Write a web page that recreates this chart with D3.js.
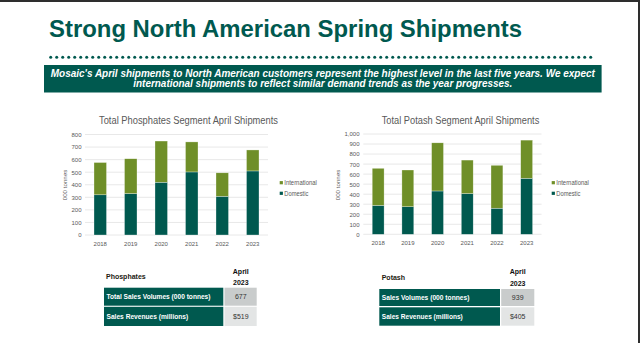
<!DOCTYPE html>
<html><head><meta charset="utf-8">
<script src="https://cdn.jsdelivr.net/npm/d3@7/dist/d3.min.js"></script>
<style>
html,body{margin:0;padding:0;background:#fff;}
svg{display:block;font-family:"Liberation Sans",Arial,sans-serif;}
</style></head>
<body>
<svg id="c" width="640" height="343"></svg>
<script>
const years = ["2018","2019","2020","2021","2022","2023"];
const seriesNames = ["Domestic","International"];
const phosDomestic = [320, 330, 420, 502, 308, 510];
const phosInternational = [257, 277, 328, 239, 187, 167];
const potashDomestic = [288, 275, 432, 406, 260, 558];
const potashInternational = [370, 366, 480, 334, 428, 381];
const phosTicks = [0,100,200,300,400,500,600,700,800];
const potashTicks = [0,100,200,300,400,500,600,700,800,900,1000];
const phosTable = [["Total Sales Volumes (000 tonnes)","677"],["Sales Revenues (millions)","$519"]];
const potashTable = [["Sales Volumes (000 tonnes)","939"],["Sales Revenues (millions)","$405"]];

const TEAL = "#00594f", GREEN = "#6f8f28", GRAY = "#595959";
const svg = d3.select("#c");

// frame edges
svg.append("rect").attr("x",0).attr("y",0).attr("width",640).attr("height",2).attr("fill","#2e2e2e");
svg.append("rect").attr("x",638).attr("y",0).attr("width",2).attr("height",343).attr("fill","#2e2e2e");

// title
svg.append("text").attr("x",49).attr("y",37.3).attr("fill",TEAL)
  .attr("font-size",24).attr("font-weight","bold")
  .attr("textLength",473).attr("lengthAdjust","spacingAndGlyphs")
  .text("Strong North American Spring Shipments");

// dotted line
const dots = d3.range(50.7, 596, 6);
svg.append("g").selectAll("circle").data(dots).join("circle")
  .attr("cx",d=>d).attr("cy",57.3).attr("r",1.5).attr("fill",TEAL);

// banner
svg.append("rect").attr("x",44).attr("y",65).attr("width",557.6).attr("height",27.5).attr("fill",TEAL);
const banner = [
  ["Mosaic's April shipments to North American customers represent the highest level in the last five years. We expect", 76.7, 544],
  ["international shipments to reflect similar demand trends as the year progresses.", 86.9, 379]
];
svg.append("g").selectAll("text").data(banner).join("text")
  .attr("x",322.8).attr("y",d=>d[1]).attr("text-anchor","middle")
  .attr("fill","#fff").attr("font-size",10).attr("font-weight","bold").attr("font-style","italic")
  .attr("textLength",d=>d[2]).attr("lengthAdjust","spacingAndGlyphs")
  .text(d=>d[0]);

function chart(o){
  const g = svg.append("g");
  const x = d3.scaleBand().domain(years).range([o.x0,o.x1]).paddingInner(o.pad).paddingOuter(o.pad/2);
  const y = d3.scaleLinear().domain([0,o.max]).range([o.y0,o.y1]);
  // title
  g.append("text").attr("x",o.tx).attr("y",o.ty).attr("text-anchor","middle")
    .attr("fill",GRAY).attr("font-size",10).attr("textLength",o.tw).attr("lengthAdjust","spacingAndGlyphs").text(o.title);
  // grid
  g.append("g").selectAll("line").data(o.ticks).join("line")
    .attr("x1",o.x0).attr("x2",o.x1).attr("y1",d=>y(d)).attr("y2",d=>y(d))
    .attr("stroke","#e2e2e2").attr("stroke-width",0.8);
  // y axis labels
  const ya = d3.axisLeft(y).tickValues(o.ticks).tickSize(0).tickPadding(0).tickFormat(d3.format(","));
  const yg = g.append("g").attr("transform",`translate(${o.lx},0)`).call(ya);
  yg.select(".domain").remove();
  yg.selectAll("text").attr("fill",GRAY).attr("font-size",6).attr("font-family","Liberation Sans,Arial,sans-serif");
  // x axis labels
  const xa = d3.axisBottom(x).tickSize(0).tickPadding(0);
  const xg = g.append("g").attr("transform",`translate(0,${o.xly})`).call(xa);
  xg.select(".domain").remove();
  xg.selectAll("text").attr("fill",GRAY).attr("font-size",6).attr("font-family","Liberation Sans,Arial,sans-serif");
  // stacked bars
  const rows = years.map((yr,i)=>({year:yr, Domestic:o.dom[i], International:o.intl[i]}));
  const stack = d3.stack().keys(seriesNames)(rows);
  const color = d3.scaleOrdinal().domain(seriesNames).range([TEAL,GREEN]);
  g.append("g").selectAll("g").data(stack).join("g").attr("fill",d=>color(d.key))
    .selectAll("rect").data(d=>d).join("rect")
    .attr("x",d=>x(d.data.year)).attr("width",x.bandwidth())
    .attr("y",d=>y(d[1])).attr("height",d=>y(d[0])-y(d[1]))
    .attr("stroke","#ffffff").attr("stroke-width",0.5).attr("stroke-opacity",0.6);
  // y title
  g.append("text").attr("transform",`translate(${o.ytx},${o.yty}) rotate(-90)`)
    .attr("text-anchor","middle").attr("fill",GRAY).attr("font-size",6.2).text("000 tonnes");
  // legend
  const leg = [["International",GREEN,o.legY,32.5],["Domestic",TEAL,o.legY+10.6,24]];
  const lg = g.append("g").selectAll("g").data(leg).join("g");
  lg.append("rect").attr("x",o.legX).attr("y",d=>d[2]-1.6).attr("width",3.2).attr("height",3.2).attr("fill",d=>d[1]);
  lg.append("text").attr("x",o.legX+4.6).attr("y",d=>d[2]+2.2).attr("fill",GRAY).attr("font-size",6.8)
    .attr("textLength",d=>d[3]).attr("lengthAdjust","spacingAndGlyphs").text(d=>d[0]);
}

chart({x0:85,x1:268,pad:0.59,y0:235,y1:134.5,max:800,ticks:phosTicks,dom:phosDomestic,intl:phosInternational,
  title:"Total Phosphates Segment April Shipments",tw:179,tx:188.5,ty:124.3,lx:81.5,xly:241.5,ytx:66.5,yty:185,legX:279.7,legY:182.7});
chart({x0:363.3,x1:541.5,pad:0.6,y0:234.3,y1:134,max:1000,ticks:potashTicks,dom:potashDomestic,intl:potashInternational,
  title:"Total Potash Segment April Shipments",tw:157.6,tx:460.5,ty:123.8,lx:359.5,xly:241,ytx:339.5,yty:185,legX:551.7,legY:182.7});

function table(o){
  const g = svg.append("g");
  g.append("text").attr("x",o.hx).attr("y",o.hy).attr("font-size",7).attr("font-weight","bold").attr("fill","#231a10").text(o.head);
  g.append("text").attr("x",o.vc).attr("y",o.ay1).attr("text-anchor","middle").attr("font-size",7).attr("font-weight","bold").attr("fill","#111").text("April");
  g.append("text").attr("x",o.vc).attr("y",o.ay2).attr("text-anchor","middle").attr("font-size",7).attr("font-weight","bold").attr("fill","#111").text("2023");
  const rg = g.append("g").selectAll("g").data(o.rows).join("g");
  rg.append("rect").attr("x",o.x0).attr("y",(d,i)=>o.ry[i]).attr("width",o.x1-o.x0).attr("height",(d,i)=>o.rh[i]).attr("fill",TEAL);
  rg.append("rect").attr("x",o.x1+1.2).attr("y",(d,i)=>o.ry[i]).attr("width",o.x2-o.x1-1.2).attr("height",(d,i)=>o.rh[i])
    .attr("fill",(d,i)=>i===0?"#c9cccc":"#e3e5e5");
  rg.append("text").attr("x",o.x0+2.5).attr("y",(d,i)=>o.ry[i]+o.rh[i]/2+2.5).attr("fill","#fff")
    .attr("font-size",7).attr("font-weight","bold")
    .attr("textLength",(d,i)=>o.tw[i]).attr("lengthAdjust","spacingAndGlyphs").text(d=>d[0]);
  rg.append("text").attr("x",o.vc).attr("y",(d,i)=>o.ry[i]+o.rh[i]/2+2.5).attr("text-anchor","middle").attr("fill","#333")
    .attr("font-size",7).text(d=>d[1]);
}
table({head:"Phosphates",hx:106,hy:279.3,vc:240.8,ay1:273.5,ay2:285.2,rows:phosTable,tw:[104,81.7],x0:104,x1:223.3,x2:256.7,ry:[287.7,306.8],rh:[18,19.2]});
table({head:"Potash",hx:381.7,hy:279.8,vc:517.7,ay1:274.2,ay2:286.2,rows:potashTable,tw:[87.6,81],x0:379.3,x1:500,x2:534.3,ry:[289,307.3],rh:[17,18.4]});
</script>
</body></html>
